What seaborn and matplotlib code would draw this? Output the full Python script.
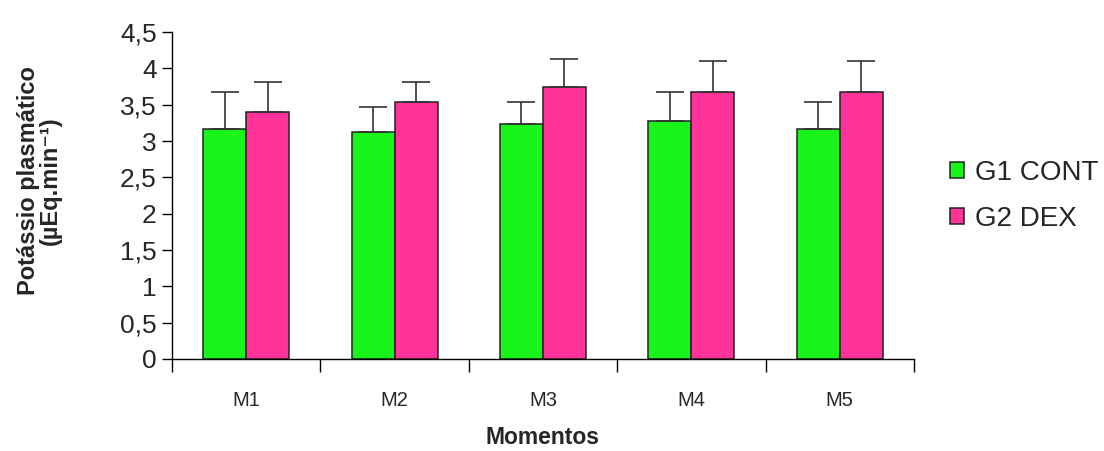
import matplotlib
matplotlib.use('Agg')
import matplotlib.pyplot as plt
import numpy as np
import pandas as pd
import seaborn as sns

# data
momentos = ['M1', 'M2', 'M3', 'M4', 'M5']
grupos = ['G1 CONT', 'G2 DEX']
g1_media = [3.17, 3.13, 3.24, 3.27, 3.17]
g1_dp = [0.50, 0.34, 0.30, 0.40, 0.37]
g2_media = [3.40, 3.54, 3.74, 3.67, 3.67]
g2_dp = [0.41, 0.27, 0.39, 0.43, 0.43]
y_ticks = [0, 0.5, 1, 1.5, 2, 2.5, 3, 3.5, 4, 4.5]

sns.set_theme(style='white')
plt.rcParams['font.family'] = ['Liberation Sans', 'DejaVu Sans']

df = pd.DataFrame({
    'Momentos': momentos * 2,
    'Grupo': [grupos[0]] * 5 + [grupos[1]] * 5,
    'valor': g1_media + g2_media,
    'dp': g1_dp + g2_dp,
})

fig = plt.figure(figsize=(11.04, 4.51), dpi=100)
ax = fig.add_axes([0.1558, 0.204, 0.672, 0.725])

cores = {'G1 CONT': '#19f51a', 'G2 DEX': '#ff3399'}
sns.barplot(data=df, x='Momentos', y='valor', hue='Grupo', palette=cores,
            width=0.58, errorbar=None, edgecolor='#222222', linewidth=1.1,
            saturation=1, ax=ax)

# upward-only error bars on the bar tops
bars = [p for p in ax.patches if p.get_height() > 0][:10]
for bar, sd in zip(bars, df['dp']):
    x = bar.get_x() + bar.get_width() / 2
    ax.errorbar(x, bar.get_height(), yerr=[[0], [sd]], fmt='none',
                ecolor='#333333', elinewidth=1.2, capsize=10, capthick=1.2)

ax.set_ylim(0, 4.5)
ax.set_xlim(-0.5, 4.5)
ax.set_yticks(y_ticks)
ax.set_yticklabels([f'{v:g}'.replace('.', ',') for v in y_ticks], fontsize=19)

ax.set_xticks(np.arange(-0.5, 5, 1))
ax.set_xticklabels([])
ax.set_xticks(np.arange(5), minor=True)
ax.set_xticklabels(momentos, minor=True, fontsize=14.5)
ax.tick_params(axis='x', which='major', direction='out', length=9, width=1, color='black', bottom=True)
ax.tick_params(axis='x', which='minor', length=0, pad=23)
ax.tick_params(axis='y', direction='out', length=7, width=1, color='black', left=True, pad=4)

for side in ['top', 'right']:
    ax.spines[side].set_visible(False)
for side in ['left', 'bottom']:
    ax.spines[side].set_color('black')
    ax.spines[side].set_linewidth(1)

ax.set_xlabel('Momentos', fontsize=16.5, fontweight='bold')
ax.xaxis.set_label_coords(0.5, -0.205)
ax.xaxis.label.set_va('top')
ax.set_ylabel('Potássio plasmático\n(µEq.min⁻¹)', fontsize=17, fontweight='bold',
              linespacing=0.95)
ax.yaxis.set_label_coords(-0.148, 0.545)

ax.legend(loc='center left', bbox_to_anchor=(1.015, 0.5), frameon=False,
          fontsize=20, handlelength=0.5, handleheight=0.5, handletextpad=0.4,
          labelspacing=0.72)

fig.savefig('out.png', dpi=100)
